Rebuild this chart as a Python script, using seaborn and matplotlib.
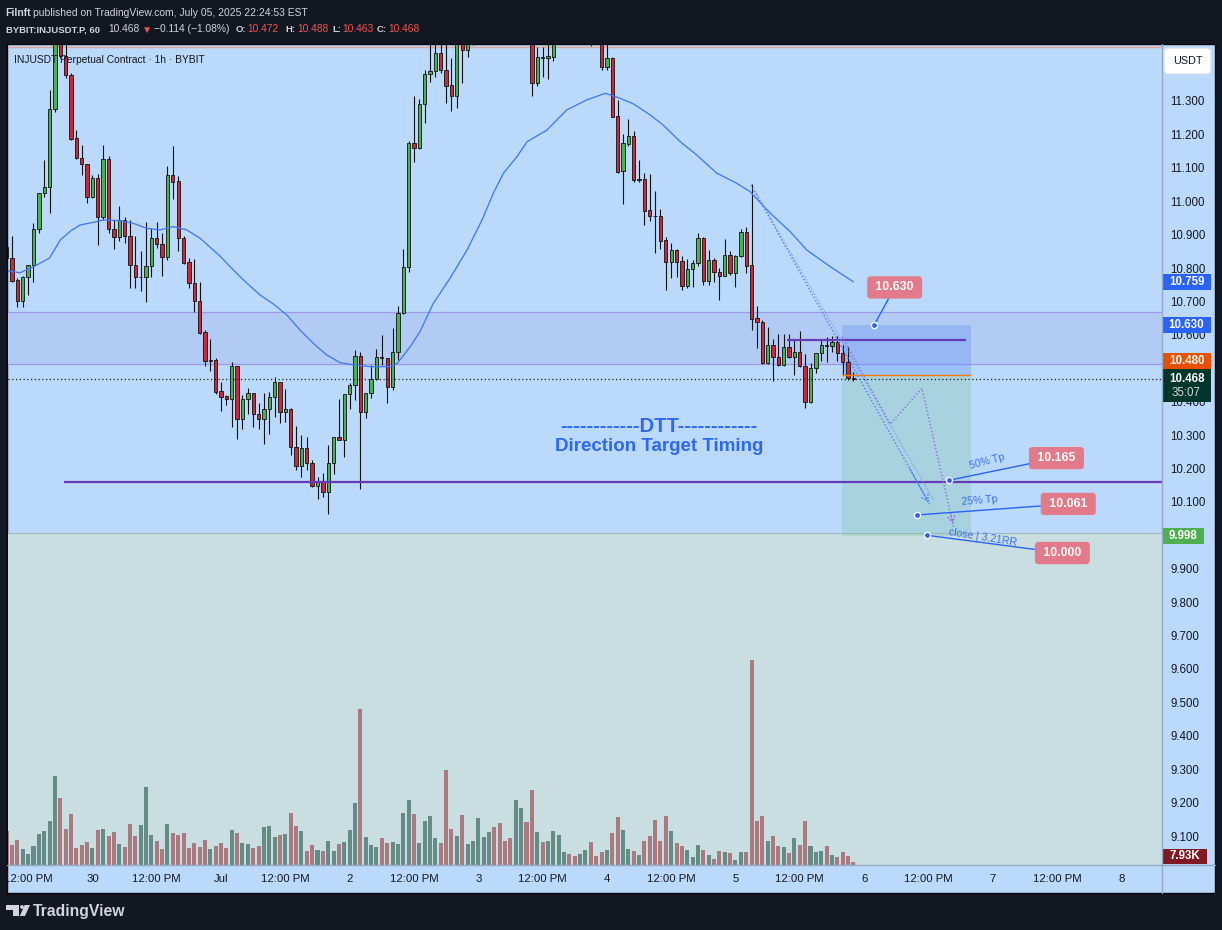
import numpy as np
import pandas as pd
import matplotlib
matplotlib.use("Agg")
import matplotlib.pyplot as plt
import matplotlib.transforms as mtransforms
from matplotlib.patches import Rectangle, FancyBboxPatch, Polygon, Circle
from matplotlib.lines import Line2D
import seaborn as sns

# ---------------------------------------------------------------------------
# INJUSDT perpetual, 1h candles (index 0 = Jun 29, 08:00)
# ---------------------------------------------------------------------------
opens = [10.864, 10.829, 10.764, 10.700, 10.772, 10.808, 10.916, 11.026, 11.042, 11.275,
         11.550, 11.436, 11.378, 11.189, 11.129, 11.111, 11.014, 11.069, 10.952, 11.127,
         10.916, 10.892, 10.943, 10.896, 10.808, 10.772, 10.772, 10.806, 10.889, 10.871,
         10.832, 11.079, 11.061, 10.889, 10.818, 10.754, 10.700, 10.608, 10.523, 10.525,
         10.432, 10.417, 10.407, 10.507, 10.347, 10.407, 10.425, 10.362, 10.347, 10.377,
         10.413, 10.459, 10.368, 10.377, 10.263, 10.208, 10.260, 10.216, 10.148, 10.161,
         10.129, 10.216, 10.293, 10.285, 10.423, 10.449, 10.537, 10.368, 10.425, 10.467,
         10.533, 10.530, 10.443, 10.548, 10.665, 10.804, 11.174, 11.159, 11.291, 11.381,
         11.390, 11.443, 11.393, 11.348, 11.316, 11.520, 11.453, 11.540, 11.580, 11.640,
         11.680, 11.720, 11.670, 11.620, 11.600, 11.570, 11.640, 11.680, 11.580, 11.355,
         11.431, 11.428, 11.433, 11.500, 11.540, 11.570, 11.550, 11.530, 11.550, 11.570,
         11.520, 11.500, 11.403, 11.428, 11.255, 11.089, 11.172, 11.194, 11.064, 11.066,
         10.974, 10.957, 10.956, 10.884, 10.819, 10.854, 10.821, 10.747, 10.796, 10.814,
         10.889, 10.762, 10.824, 10.787, 10.777, 10.838, 10.786, 10.836, 10.908, 10.808,
         10.651, 10.638, 10.515, 10.570, 10.533, 10.510, 10.563, 10.533, 10.550, 10.507,
         10.398, 10.500, 10.545, 10.570, 10.568, 10.580, 10.545, 10.520, 10.472]
highs = [10.874, 10.896, 10.769, 10.776, 10.808, 10.936, 11.026, 11.124, 11.333, 11.600,
         11.620, 11.500, 11.383, 11.214, 11.169, 11.111, 11.079, 11.082, 11.169, 11.136,
         10.944, 10.986, 10.952, 10.943, 10.896, 10.851, 10.937, 10.919, 10.939, 10.904,
         11.104, 11.166, 11.076, 10.896, 10.829, 10.827, 10.758, 10.615, 10.588, 10.530,
         10.460, 10.420, 10.520, 10.507, 10.420, 10.440, 10.427, 10.395, 10.427, 10.430,
         10.475, 10.460, 10.438, 10.380, 10.327, 10.300, 10.295, 10.224, 10.174, 10.186,
         10.270, 10.293, 10.408, 10.423, 10.455, 10.555, 10.550, 10.427, 10.510, 10.557,
         10.600, 10.530, 10.620, 10.685, 10.856, 11.179, 11.315, 11.305, 11.393, 11.500,
         11.520, 11.510, 11.500, 11.428, 11.560, 11.580, 11.600, 11.620, 11.660, 11.700,
         11.750, 11.740, 11.690, 11.640, 11.620, 11.660, 11.700, 11.700, 11.600, 11.461,
         11.463, 11.500, 11.530, 11.560, 11.590, 11.580, 11.560, 11.570, 11.590, 11.590,
         11.540, 11.520, 11.500, 11.433, 11.303, 11.202, 11.246, 11.209, 11.124, 11.084,
         11.082, 11.031, 10.976, 10.894, 10.874, 10.856, 10.836, 10.826, 10.824, 10.904,
         10.892, 10.854, 10.829, 10.799, 10.886, 10.852, 10.839, 10.917, 10.924, 11.051,
         10.685, 10.645, 10.623, 10.588, 10.603, 10.603, 10.603, 10.585, 10.613, 10.543,
         10.517, 10.547, 10.585, 10.595, 10.597, 10.597, 10.570, 10.565, 10.488]
lows = [10.824, 10.759, 10.683, 10.683, 10.718, 10.757, 10.906, 11.014, 10.964, 11.268,
        11.430, 11.368, 11.182, 11.126, 11.079, 10.994, 11.009, 10.870, 10.944, 10.906,
        10.856, 10.882, 10.876, 10.741, 10.741, 10.730, 10.697, 10.774, 10.859, 10.777,
        10.824, 11.007, 10.852, 10.812, 10.739, 10.667, 10.603, 10.507, 10.493, 10.423,
        10.373, 10.390, 10.323, 10.287, 10.317, 10.363, 10.325, 10.317, 10.273, 10.302,
        10.353, 10.337, 10.340, 10.240, 10.196, 10.174, 10.196, 10.146, 10.108, 10.116,
        10.064, 10.183, 10.285, 10.233, 10.377, 10.405, 10.138, 10.352, 10.410, 10.465,
        10.510, 10.397, 10.435, 10.525, 10.663, 10.789, 11.116, 11.156, 11.235, 11.358,
        11.371, 11.385, 11.295, 11.271, 11.280, 11.353, 11.433, 11.468, 11.550, 11.610,
        11.660, 11.650, 11.600, 11.570, 11.540, 11.550, 11.620, 11.550, 11.315, 11.345,
        11.373, 11.366, 11.421, 11.480, 11.520, 11.530, 11.510, 11.510, 11.540, 11.466,
        11.480, 11.393, 11.393, 11.253, 11.084, 10.992, 11.164, 11.059, 11.059, 10.929,
        10.941, 10.846, 10.856, 10.734, 10.769, 10.772, 10.734, 10.739, 10.744, 10.806,
        10.749, 10.749, 10.759, 10.705, 10.776, 10.779, 10.744, 10.834, 10.786, 10.615,
        10.560, 10.513, 10.513, 10.463, 10.507, 10.507, 10.530, 10.480, 10.505, 10.382,
        10.395, 10.485, 10.523, 10.520, 10.550, 10.523, 10.480, 10.465, 10.463]
closes = [10.829, 10.762, 10.700, 10.772, 10.808, 10.916, 11.026, 11.042, 11.275, 11.550,
          11.436, 11.378, 11.187, 11.129, 11.111, 11.014, 11.069, 10.952, 11.126, 10.916,
          10.892, 10.943, 10.896, 10.808, 10.772, 10.773, 10.806, 10.889, 10.871, 10.832,
          11.079, 11.059, 10.889, 10.816, 10.754, 10.700, 10.607, 10.523, 10.524, 10.430,
          10.415, 10.407, 10.507, 10.347, 10.407, 10.425, 10.362, 10.347, 10.377, 10.413,
          10.459, 10.368, 10.377, 10.263, 10.208, 10.260, 10.216, 10.148, 10.161, 10.129,
          10.216, 10.293, 10.285, 10.423, 10.449, 10.537, 10.368, 10.425, 10.467, 10.533,
          10.531, 10.443, 10.548, 10.665, 10.804, 11.174, 11.159, 11.291, 11.381, 11.390,
          11.443, 11.393, 11.346, 11.316, 11.520, 11.453, 11.540, 11.580, 11.640, 11.680,
          11.720, 11.670, 11.620, 11.600, 11.570, 11.640, 11.680, 11.580, 11.355, 11.431,
          11.430, 11.435, 11.500, 11.540, 11.570, 11.550, 11.530, 11.550, 11.570, 11.520,
          11.500, 11.403, 11.428, 11.253, 11.087, 11.174, 11.194, 11.064, 11.065, 10.972,
          10.957, 10.955, 10.882, 10.819, 10.854, 10.819, 10.747, 10.796, 10.814, 10.889,
          10.762, 10.824, 10.787, 10.777, 10.838, 10.786, 10.836, 10.908, 10.807, 10.649,
          10.638, 10.515, 10.570, 10.533, 10.510, 10.563, 10.533, 10.550, 10.507, 10.398,
          10.500, 10.545, 10.570, 10.568, 10.580, 10.545, 10.520, 10.472, 10.468]
volumes_k = [90, 53, 66, 42, 29, 50, 82, 90, 116, 235,
             177, 95, 135, 45, 53, 61, 45, 92, 95, 77,
             87, 55, 48, 108, 77, 106, 206, 79, 63, 42,
             108, 84, 79, 84, 45, 58, 48, 66, 42, 50,
             58, 45, 92, 84, 58, 55, 45, 50, 100, 103,
             74, 79, 82, 137, 103, 90, 37, 53, 40, 37,
             63, 37, 55, 61, 92, 164, 412, 74, 53, 48,
             71, 58, 61, 55, 137, 172, 135, 58, 116, 129,
             71, 58, 251, 95, 77, 132, 55, 63, 124, 74,
             87, 100, 111, 63, 71, 172, 150, 114, 198, 87,
             61, 63, 90, 79, 34, 29, 24, 29, 40, 61,
             24, 34, 40, 84, 127, 92, 42, 37, 26, 63,
             77, 119, 63, 129, 90, 58, 50, 40, 21, 53,
             40, 26, 16, 37, 34, 32, 13, 34, 34, 541,
             116, 129, 63, 77, 50, 48, 32, 71, 53, 116,
             50, 34, 37, 50, 26, 21, 34, 24, 7.93]

# moving average (blue line), sampled along the candle index
ma_idx = [0, 2.5, 5, 8, 10, 12, 13.7, 16.2, 18, 21, 23.6, 26.1, 28.6, 31.1, 33.6, 36.1,
          39.8, 41.7, 44.2, 47.3, 49.8, 52.3, 54.7, 57.2, 59.7, 62.2, 64.7, 67.8, 71.5,
          72.8, 75.3, 77.1, 79.6, 82.7, 85.9, 88.7, 90.8, 92.7, 95.2, 97.1, 100.8, 104.5,
          108.2, 111.7, 114.5, 117, 120.1, 122.5, 125.7, 128.8, 132.5, 136.2, 138.7,
          142.5, 146.2, 149.3, 153.7, 158]
ma_val = [10.792, 10.786, 10.804, 10.830, 10.884, 10.912, 10.929, 10.937, 10.944, 10.942,
          10.934, 10.919, 10.914, 10.924, 10.914, 10.889, 10.836, 10.804, 10.764, 10.719,
          10.692, 10.659, 10.615, 10.575, 10.540, 10.517, 10.510, 10.505, 10.505, 10.513,
          10.565, 10.609, 10.694, 10.769, 10.854, 10.944, 11.024, 11.084, 11.133, 11.178,
          11.213, 11.273, 11.303, 11.323, 11.308, 11.291, 11.258, 11.228, 11.178, 11.138,
          11.084, 11.054, 11.029, 10.964, 10.909, 10.854, 10.804, 10.759]

time_tick_idx = [4, 16, 28, 40, 52, 64, 76, 88, 100, 112, 124, 136, 148, 160, 172, 184, 196, 208]
time_tick_lbl = ["12:00 PM", "30", "12:00 PM", "Jul", "12:00 PM", "2", "12:00 PM", "3",
                 "12:00 PM", "4", "12:00 PM", "5", "12:00 PM", "6", "12:00 PM", "7",
                 "12:00 PM", "8"]
# price scale labels (10.000 / 10.500 / 11.400 sit under the axis tags)
price_ticks = [9.1, 9.2, 9.3, 9.4, 9.5, 9.6, 9.7, 9.8, 9.9, 10.1, 10.2, 10.3,
               10.4, 10.6, 10.7, 10.8, 10.9, 11.0, 11.1, 11.2, 11.3]

# trade plan levels
ENTRY, STOP, TARGET = 10.480, 10.630, 9.998
TP_LEVELS = [10.165, 10.061, 10.000]
TP_NOTES = ["50% Tp", "25% Tp", "close | 3.21RR"]
MA_LAST = 10.759
LAST_PRICE = 10.468
SUPPORT = 10.160
RANGE_HIGH = 10.585
ZONE_LO, ZONE_HI = 10.513, 10.667
LOWER_BAND = 10.008
TOP_LINE = 11.461

# ---------------------------------------------------------------------------
W, H = 1222, 930
DARK = "#131722"
BG = "#bbd9fa"
LOWBG = "#c9dee1"
TXT = "#131722"
SEP = "#93a9c6"
C_UP, C_DN = "#4caf50", "#cc2936"
V_UP, V_DN = "#648b84", "#a97b80"
MA_C = "#4279f2"
BLUE = "#2962ff"
PINK = "#e27a89"
PURPLE = "#673ab7"
FONT = ["Liberation Sans", "DejaVu Sans"]

sns.set_style("white")
plt.rcParams["font.family"] = FONT

fig = plt.figure(figsize=(W / 100, H / 100), dpi=100, facecolor=DARK)


def px_rect(x0, y0, x1, y1):
    return [x0 / W, 1 - y1 / H, (x1 - x0) / W, (y1 - y0) / H]


# chart panel
panel = fig.add_axes(px_rect(7, 44, 1215, 893), zorder=-1)
panel.set_facecolor(BG)
panel.set_xticks([])
panel.set_yticks([])
for s in panel.spines.values():
    s.set_color("#05070b")
    s.set_linewidth(1.0)

PLOT = px_rect(8, 44.5, 1161.5, 865)
XL, XR = 0.243, 215.5
YMIN, YMAX = 9.0133, 11.4691
PX = (YMAX - YMIN) / 820.5  # price per pixel

axbg = fig.add_axes(PLOT, zorder=0)
axv = fig.add_axes(PLOT, zorder=1)
ax = fig.add_axes(PLOT, zorder=2)
for a in (axbg, axv, ax):
    a.patch.set_visible(False)
    for s in a.spines.values():
        s.set_visible(False)

# background zones
axbg.axhspan(YMIN - 1, LOWER_BAND, color=LOWBG, lw=0)
axbg.axhline(LOWER_BAND, color="#9fb6bf", lw=0.8)
axbg.axhspan(ZONE_LO, ZONE_HI, color="#b2cbf4", lw=0)
axbg.axhline(ZONE_LO, color="#9d98e8", lw=0.9)
axbg.axhline(ZONE_HI, color="#9d98e8", lw=0.9)
axbg.set_xlim(XL, XR)
axbg.set_ylim(YMIN, YMAX)
axbg.set_xticks([])
axbg.set_yticks([])

# volume
idx = np.arange(len(closes))
df = pd.DataFrame({"k": idx, "vol": volumes_k,
                   "dir": ["up" if c >= o else "down" for o, c in zip(opens, closes)]})
sns.barplot(data=df, x="k", y="vol", hue="dir", palette={"up": V_UP, "down": V_DN},
            native_scale=True, width=0.75, dodge=False, errorbar=None, legend=False,
            saturation=1, linewidth=0, ax=axv)
axv.set_xlim(XL, XR)
axv.set_ylim(0, 820.5 * 2.64)
axv.set_xticks([])
axv.set_yticks([])
axv.set_xlabel("")
axv.set_ylabel("")

# candles
o = np.array(opens)
c = np.array(closes)
up = c >= o
ax.vlines(idx, lows, highs, colors="#111111", lw=0.8, zorder=3)
ax.bar(idx, np.maximum(np.abs(c - o), 0.0015), bottom=np.minimum(o, c), width=0.62,
       color=[C_UP if u else C_DN for u in up], edgecolor="#111111", linewidth=0.6, zorder=4)

# moving average
sns.lineplot(x=ma_idx, y=ma_val, ax=ax, color=MA_C, lw=0.95, zorder=5)

# horizontal levels
ax.axhline(TOP_LINE, color="#e5a497", lw=1.0, zorder=2)
ax.axhline(LAST_PRICE, color="#1b1b1b", lw=0.9, ls=(0, (1, 2)), zorder=6)
ax.hlines(SUPPORT, 10.7, XR, color=PURPLE, lw=1.6, zorder=6)
ax.hlines(RANGE_HIGH, 145.7, 179.0, color=PURPLE, lw=1.6, zorder=6)

# long/short position box
K0, K1 = 155.8, 180.0
ax.add_patch(Rectangle((K0, ENTRY), K1 - K0, STOP - ENTRY, fc="#4f86f7", alpha=0.28, lw=0, zorder=2))
ax.add_patch(Rectangle((K0, TARGET), K1 - K0, ENTRY - TARGET, fc="#78c3a0", alpha=0.28, lw=0, zorder=2))
ax.hlines(ENTRY, K0, K1, color="#f57c00", lw=1.0, zorder=6)

# projected paths
path_a_k, path_a_p = [138.9, 172.3], [11.049, 10.091]
path_b_k, path_b_p = [139.3, 173.0], [11.040, 10.105]
path_c_k, path_c_p = [155.9, 164.9, 170.8, 176.7], [10.594, 10.333, 10.440, 10.026]
ax.plot(path_a_k, path_a_p, ls=(0, (1, 1.5)), color="#4a7ff0", lw=1.0, zorder=6)
ax.plot(path_b_k, path_b_p, ls=(0, (1, 1.5)), color="#6f93ee", lw=0.8, zorder=6)
ax.plot(path_c_k, path_c_p, ls=(0, (1, 1.5)), color="#8c6bd8", lw=1.0, zorder=6)
for pk, pp, col in ((path_a_k, path_a_p, "#4a7ff0"), (path_c_k, path_c_p, "#8c6bd8")):
    ax.annotate("", xy=(pk[-1], pp[-1]),
                xytext=(pk[-1] - (pk[-1] - pk[-2]) * 0.12, pp[-1] - (pp[-1] - pp[-2]) * 0.12),
                arrowprops=dict(arrowstyle="->,head_length=0.45,head_width=0.25", color=col,
                                lw=0.9, linestyle=":"), zorder=6)

# price call-outs
call_dot_k = [161.9, 175.9, 169.9, 171.8]
call_dot_p = [STOP] + TP_LEVELS
call_box_k = [165.7, 195.9, 198.1, 197.0]
call_box_p = [10.742, 10.231, 10.094, 9.947]
for dk, dp, bk, bp in zip(call_dot_k, call_dot_p, call_box_k, call_box_p):
    ax.annotate(f" {dp:.3f} ", xy=(dk, dp), xytext=(bk, bp), textcoords="data",
                ha="center", va="center", color="white", fontsize=8.8, fontweight="bold",
                bbox=dict(boxstyle="round,pad=0.42,rounding_size=0.3", fc=PINK, ec="none"),
                arrowprops=dict(arrowstyle="-", color=BLUE, lw=1.0, shrinkA=0, shrinkB=0),
                zorder=8, annotation_clip=False)
ax.scatter(call_dot_k, call_dot_p, s=20, color=BLUE, edgecolors="white", linewidths=1.0, zorder=9)

note_k = [183.0, 181.5, 182.2]
note_p = [10.222, 10.103, 9.994]
note_rot = [15, 4.5, -9]
for nk, npr, nr, nt in zip(note_k, note_p, note_rot, TP_NOTES):
    ax.text(nk, npr, nt, rotation=nr, rotation_mode="anchor", ha="center", va="center",
            color="#3a6ff0", fontsize=7.6, zorder=8)

# headline text
ax.text(121.7, 10.327, "------------DTT------------", ha="center", va="center",
        color="#2f68f0", fontsize=14.5, fontweight="bold", zorder=8)
ax.text(121.7, 10.265, "Direction Target Timing", ha="center", va="center",
        color="#2f68f0", fontsize=13.5, fontweight="bold", zorder=8)

# axes, ticks
ax.set_xlim(XL, XR)
ax.set_ylim(YMIN, YMAX)
ax.set_autoscale_on(False)
ax.set_xlabel("")
ax.set_ylabel("")
ax.yaxis.tick_right()
ax.set_yticks(price_ticks)
ax.set_yticklabels([f"{t:.3f}" for t in price_ticks])
ax.set_xticks(time_tick_idx)
ax.set_xticklabels(time_tick_lbl)
ax.tick_params(axis="y", length=0, pad=6.5, labelsize=8.3, labelcolor=TXT)
ax.tick_params(axis="x", length=0, pad=6.8, labelsize=8.2, labelcolor=TXT)
for lab in ax.get_xticklabels():
    lab.set_clip_box(panel.bbox)
    lab.set_clip_on(True)

# right-axis price tags
tag_tr = mtransforms.blended_transform_factory(fig.transFigure, ax.transData)


def price_tag(p_lo, p_hi, fc, x1=1211):
    x0 = 1162
    ax.add_artist(Rectangle((x0 / W, p_lo), (x1 - x0) / W, p_hi - p_lo, transform=tag_tr,
                            fc=fc, ec="none", clip_on=False, zorder=20))
    return (x0 + x1) / 2 / W


def tag_text(xc, p, text, color="white", size=8.3, weight="bold"):
    ax.text(xc, p, text, transform=tag_tr, ha="center", va="center", color=color,
            fontsize=size, fontweight=weight, clip_on=False, zorder=21)


for p in (MA_LAST, STOP):
    xc = price_tag(p - 8 * PX, p + 8 * PX, BLUE)
    tag_text(xc, p, f"{p:.3f}")
# entry tag is nudged up so it clears the last-price tag
entry_c = ENTRY + 13.7 * PX
xc = price_tag(entry_c - 8 * PX, entry_c + 8 * PX, "#e65100")
tag_text(xc, entry_c, f"{ENTRY:.3f}")
xc = price_tag(10.400, 10.4964, "#01362b")
tag_text(xc, LAST_PRICE, f"{LAST_PRICE:.3f}")
tag_text(xc, 10.425, "35:07", color="#d6d9de", weight="normal")
xc = price_tag(TARGET - 8 * PX, TARGET + 8 * PX, "#4caf50", x1=1204)
tag_text(xc, TARGET, f"{TARGET:.3f}")

vol_tr = mtransforms.blended_transform_factory(fig.transFigure, axv.transAxes)
axv.add_artist(Rectangle((1162 / W, 0.0012), 45 / W, 0.0183, transform=vol_tr,
                         fc="#801922", ec="none", clip_on=False, zorder=20))
axv.text(1184.5 / W, 0.0104, f"{volumes_k[-1]:.2f}K", transform=vol_tr, ha="center",
         va="center", color="white", fontsize=8.3, fontweight="bold", clip_on=False, zorder=21)

# currency button
fig.add_artist(FancyBboxPatch((1164, H - 74), 47, 26, boxstyle="round,pad=0,rounding_size=4",
                              transform=mtransforms.IdentityTransform(), fc="white",
                              ec="#d5dbe5", lw=0.8, zorder=10))
fig.text(1187.5 / W, 1 - 61.5 / H, "USDT", ha="center", va="center", color=TXT,
         fontsize=7.8, zorder=11)

# pane separators
fig.add_artist(Line2D([1161.5 / W] * 2, [1 - 44 / H, 1 - 893 / H], transform=fig.transFigure,
                      color=SEP, lw=1.0, zorder=9))
fig.add_artist(Line2D([7 / W, 1215 / W], [1 - 865 / H] * 2, transform=fig.transFigure,
                      color=SEP, lw=1.0, zorder=9))

# symbol legend
fig.text(13.5 / W, 1 - 60 / H, "INJUSDT Perpetual Contract · 1h · BYBIT", ha="left",
         va="center", color=TXT, fontsize=7.4, zorder=12)

# header
HC = "#d1d4dc"
RED = "#ef5350"
fig.text(5.7 / W, 1 - 13 / H, "Filnft", ha="left", va="center", color=HC, fontsize=7.5,
         fontweight="bold")
fig.text(33 / W, 1 - 13 / H, "published on TradingView.com, July 05, 2025 22:24:53 EST",
         ha="left", va="center", color=HC, fontsize=7.5)
hdr = [(5.7, "BYBIT:INJUSDT.P, 60", HC, "bold"), (108, "10.468", HC, "normal"),
       (142, "▼", RED, "normal"), (154, "−0.114 (−1.08%)", HC, "normal"),
       (236, "O:", HC, "bold"), (247, "10.472", RED, "normal"),
       (285, "H:", HC, "bold"), (297, "10.488", RED, "normal"),
       (332, "L:", HC, "bold"), (342, "10.463", RED, "normal"),
       (377, "C:", HC, "bold"), (388, "10.468", RED, "normal")]
for x, t, col, wt in hdr:
    fig.text(x / W, 1 - 29.5 / H, t, ha="left", va="center", color=col,
             fontsize=6.8 if wt == "bold" else 7.4, fontweight=wt, family=FONT)

# footer logo
LC = "#d1d4dc"
idt = mtransforms.IdentityTransform()
fig.add_artist(Polygon([(6, H - 905), (19.3, H - 905), (19.3, H - 916), (13.3, H - 916),
                        (13.3, H - 909.5), (6, H - 909.5)], closed=True, fc=LC, ec="none",
                       transform=idt))
fig.add_artist(Circle((22, H - 907), 1.9, fc=LC, ec="none", transform=idt))
fig.add_artist(Polygon([(24.6, H - 905), (30, H - 905), (25, H - 916), (19.8, H - 916)],
                       closed=True, fc=LC, ec="none", transform=idt))
fig.text(33 / W, 1 - 911 / H, "TradingView", ha="left", va="center", color=LC,
         fontsize=11.3, fontweight="bold")

fig.savefig("out.png", dpi=100, facecolor=DARK)
